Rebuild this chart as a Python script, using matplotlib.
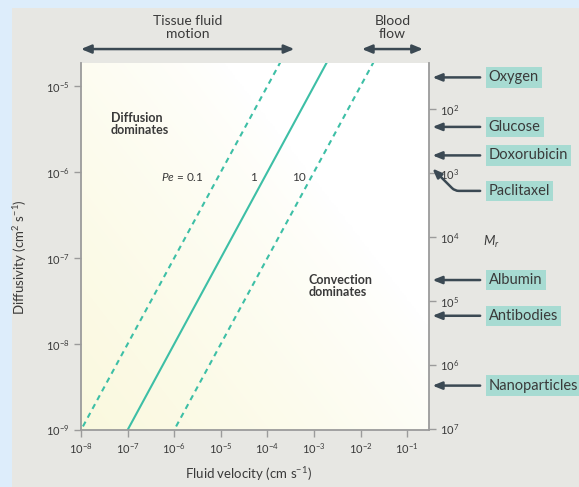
import numpy as np
import matplotlib
matplotlib.use("Agg")
import matplotlib.pyplot as plt
from matplotlib.patches import Rectangle
import matplotlib.transforms as mtransforms

plt.rcParams['font.family'] = ['Lato', 'DejaVu Sans']
plt.rcParams['mathtext.fontset'] = 'custom'
plt.rcParams['mathtext.rm'] = 'Lato'
plt.rcParams['mathtext.it'] = 'Lato:italic'
plt.rcParams['mathtext.bf'] = 'Lato:bold'

# ---------------- data ----------------
length_scale = 0.01                      # cm, D = v * L / Pe
peclet_values = [0.1, 1, 10]
peclet_labels = ["$Pe$ = 0.1", "1", "10"]
peclet_styles = ["dashed", "solid", "dashed"]
velocity = np.logspace(-9, 0, 60)         # cm s^-1

x_ticks = [1e-8, 1e-7, 1e-6, 1e-5, 1e-4, 1e-3, 1e-2, 1e-1]
x_ticklabels = ["$10^{-8}$", "$10^{-7}$", "$10^{-6}$", "$10^{-5}$",
                "$10^{-4}$", "$10^{-3}$", "$10^{-2}$", "$10^{-1}$"]
y_ticks = [1e-9, 1e-8, 1e-7, 1e-6, 1e-5]
y_ticklabels = ["$10^{-9}$", "$10^{-8}$", "$10^{-7}$", "$10^{-6}$", "$10^{-5}$"]
mr_ticks = [1e2, 1e3, 1e4, 1e5, 1e6, 1e7]
mr_ticklabels = ["$10^{2}$", "$10^{3}$", "$10^{4}$", "$10^{5}$", "$10^{6}$", "$10^{7}$"]

molecules = ["Oxygen", "Glucose", "Doxorubicin", "Paclitaxel",
             "Albumin", "Antibodies", "Nanoparticles"]
molecule_mr = [32, 190, 530, 850, 47000, 1.7e5, 2.1e6]
label_mr = [32, 190, 530, 1.9e3, 47000, 1.7e5, 2.1e6]

tissue_range = [1e-8, 10**-3.42]
blood_range = [10**-1.97, 10**-0.66]

# ---------------- style ----------------
TEAL = "#3dbfa6"
BOX = "#a7dbd2"
ARROW = "#3b4953"
TEXT = "#3a3a3a"
SPINE = "#9b9b9b"

fig = plt.figure(figsize=(5.79, 4.87), dpi=100, facecolor="#ddedfb")
fig.patches.append(Rectangle((12/579, 0), 1 - 12/579, 1 - 8/487,
                             transform=fig.transFigure, facecolor="#e7e7e3",
                             edgecolor="none", zorder=-10))

ax = fig.add_axes([81/579, 1 - 430/487, 348/579, 367/487])
ax.set_xscale("log")
ax.set_yscale("log")
ax.set_xlim(1e-8, 10**-0.53)
ax.set_ylim(1e-9, 10**-4.73)

# background gradient
gx, gy = np.meshgrid(np.linspace(0, 1, 200), np.linspace(0, 1, 200))
t = np.clip(1 - (1.1 * gx + 0.9 * gy) / 1.35, 0, 1) ** 0.8
c0 = np.array([1.0, 1.0, 1.0])
c1 = np.array([0.982, 0.975, 0.87])
img = c0[None, None, :] * (1 - t[..., None]) + c1[None, None, :] * t[..., None]
ax.imshow(img, extent=[0, 1, 0, 1], transform=ax.transAxes, origin="lower",
          aspect="auto", zorder=0, interpolation="bilinear")

for pe, ls in zip(peclet_values, peclet_styles):
    diff = velocity * length_scale / pe
    if ls == "dashed":
        ax.plot(velocity, diff, color=TEAL, lw=1.5, linestyle=(0, (2.6, 2.2)), zorder=2)
    else:
        ax.plot(velocity, diff, color=TEAL, lw=1.5, zorder=2)

ax.set_xticks(x_ticks)
ax.set_xticklabels(x_ticklabels)
ax.set_yticks(y_ticks)
ax.set_yticklabels(y_ticklabels)
ax.minorticks_off()
ax.tick_params(axis="both", direction="out", length=5, width=1.0, color=SPINE,
               labelsize=8, labelcolor=TEXT, pad=3)
for s in ["top", "right"]:
    ax.spines[s].set_visible(False)
for s in ["left", "bottom"]:
    ax.spines[s].set_color(SPINE)
    ax.spines[s].set_linewidth(1.3)

ax.set_xlabel("Fluid velocity (cm s$^{-1}$)", fontsize=9.5, color=TEXT)
ax.set_ylabel("Diffusivity (cm$^{2}$ s$^{-1}$)", fontsize=9.5, color=TEXT)
ax.xaxis.set_label_coords(0.48, -0.095)
ax.yaxis.set_label_coords(-0.15, 0.47)

# Peclet labels
ax.text(10**-5.82, 10**-6.06, peclet_labels[0], fontsize=8.5, color=TEXT, ha="center", va="center")
ax.text(10**-4.29, 10**-6.06, peclet_labels[1], fontsize=8.5, color=TEXT, ha="center", va="center")
ax.text(10**-3.32, 10**-6.06, peclet_labels[2], fontsize=8.5, color=TEXT, ha="center", va="center")

ax.text(0.085, 0.834, "Diffusion\ndominates", transform=ax.transAxes, fontsize=9,
        fontweight="bold", color=TEXT, ha="left", va="center", linespacing=1.05)
ax.text(0.655, 0.392, "Convection\ndominates", transform=ax.transAxes, fontsize=9,
        fontweight="bold", color=TEXT, ha="left", va="center", linespacing=1.05)

# top range arrows
trans_top = mtransforms.blended_transform_factory(ax.transData, ax.transAxes)
for rng, label in [(tissue_range, "Tissue fluid\nmotion"), (blood_range, "Blood\nflow")]:
    ax.annotate("", xy=(rng[1], 1.038), xytext=(rng[0], 1.038), xycoords=trans_top,
                textcoords=trans_top, annotation_clip=False,
                arrowprops=dict(arrowstyle="<|-|>,head_length=0.6,head_width=0.25",
                                color=ARROW, lw=1.8, shrinkA=0, shrinkB=0))
    mid = 10 ** ((np.log10(rng[0]) + np.log10(rng[1])) / 2)
    ax.text(mid, 1.098, label, transform=trans_top, fontsize=10, color=TEXT,
            ha="center", va="center", linespacing=1.1, clip_on=False)

# right M_r axis
ax2 = ax.twinx()
ax2.set_yscale("log")
ax2.set_ylim(10**7.016, 10**1.28)
ax2.set_yticks(mr_ticks)
ax2.set_yticklabels(mr_ticklabels)
ax2.minorticks_off()
ax2.tick_params(axis="y", direction="out", length=5, width=1.0, color=SPINE,
                labelsize=8, labelcolor=TEXT, pad=3)
for s in ["top", "left", "bottom"]:
    ax2.spines[s].set_visible(False)
ax2.spines["right"].set_color(SPINE)
ax2.spines["right"].set_linewidth(1.3)
trans_r = mtransforms.blended_transform_factory(ax2.transAxes, ax2.transData)
ax2.text(1.18, 10**4.08, "$M_r$", transform=trans_r,
         fontsize=9.5, color=TEXT, ha="center", va="center")

for name, mr, lmr in zip(molecules, molecule_mr, label_mr):
    if name == "Paclitaxel":
        cstyle = "angle,angleA=0,angleB=135,rad=4"
    else:
        cstyle = "arc3"
    ax2.annotate("", xy=(1.01, mr), xytext=(1.147, lmr), xycoords=trans_r,
                 textcoords=trans_r, annotation_clip=False,
                 arrowprops=dict(arrowstyle="-|>,head_length=0.55,head_width=0.22",
                                 color=ARROW, lw=1.8, shrinkA=0, shrinkB=0,
                                 connectionstyle=cstyle))
    ax2.text(1.172, lmr, name, transform=trans_r, fontsize=10.5, color=TEXT,
             ha="left", va="center", clip_on=False,
             bbox=dict(boxstyle="square,pad=0.22", facecolor=BOX, edgecolor="none"))

fig.savefig("out.png", dpi=100, facecolor=fig.get_facecolor())
